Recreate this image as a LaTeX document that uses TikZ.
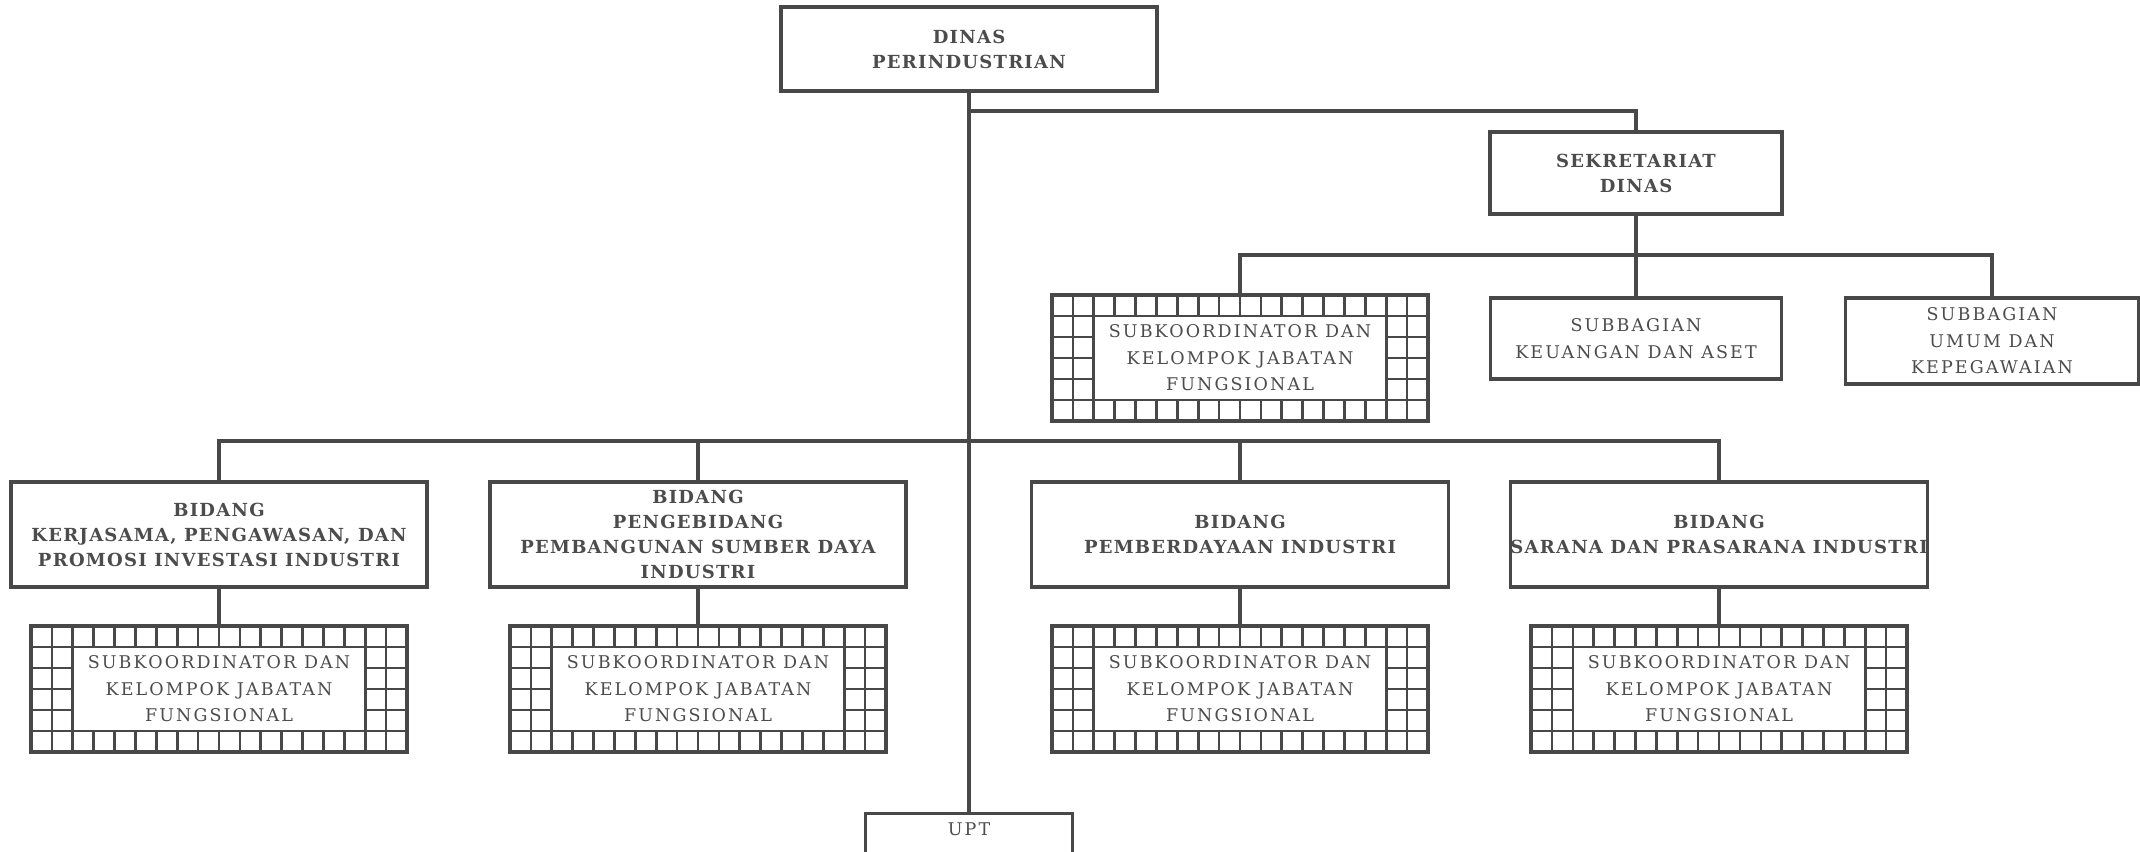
\documentclass[tikz,border=0pt]{standalone}
\usepackage{fontspec}
\setmainfont{DejaVu Serif}
\newfontfamily\bfam[LetterSpace=7]{DejaVu Serif}
\newfontfamily\rfam[LetterSpace=12]{DejaVu Serif}
\usetikzlibrary{calc}
\definecolor{ink}{HTML}{484848}
\definecolor{txt}{HTML}{4C4C4C}
\tikzset{
  conn/.style={draw=ink, line width=3.2pt},
  headbox/.style={draw=ink, line width=3.4pt, fill=white, align=center, inner sep=0pt, text=txt,
    font=\bfam\bfseries\fontsize{18}{25}\selectfont},
  plainbox/.style={draw=ink, line width=3.4pt, fill=white, align=center, inner sep=0pt, text=txt,
    font=\rfam\fontsize{17.5}{26.5}\selectfont},
  subtext/.style={align=center, inner sep=0pt, text=txt, font=\rfam\fontsize{17.5}{26.5}\selectfont,
    minimum width=376pt, minimum height=126pt},
  gridline/.style={draw=ink, line width=2.6pt},
  gridpic/.pic={
    \def\cw{20.889}
    \foreach \i in {1,...,17}{
      \draw[gridline] ({-188+\i*\cw},-63) -- ({-188+\i*\cw},-42);
      \draw[gridline] ({-188+\i*\cw},42) -- ({-188+\i*\cw},63);
    }
    \foreach \xx in {-167.11,-146.22,146.22,167.11}{\draw[gridline] (\xx,-42) -- (\xx,42);}
    \foreach \yy in {-21,0,21}{
      \draw[gridline] (-188,\yy) -- (-146.22,\yy);
      \draw[gridline] (146.22,\yy) -- (188,\yy);
    }
    \draw[gridline] (-188,-42) -- (188,-42);
    \draw[gridline] (-188,42) -- (188,42);
    \draw[draw=ink, line width=3.4pt] (-188,-63) rectangle (188,63);
  }
}
\begin{document}
\begin{tikzpicture}[x=1pt,y=-1pt]
\useasboundingbox[fill=white] (0,0) rectangle (2140,851);

% top
\node[headbox, minimum width=376pt, minimum height=84pt] (dinas) at (969,49) {DINAS\\PERINDUSTRIAN};
\node[headbox, minimum width=292pt, minimum height=82pt] (sek) at (1636,173) {SEKRETARIAT\\DINAS};

% secretariat children
\pic at (1240,358) {gridpic};
\node[subtext] (sg) at (1240,358) {SUBKOORDINATOR DAN\\KELOMPOK JABATAN\\FUNGSIONAL};
\node[plainbox, minimum width=291pt, minimum height=81pt] (keu) at (1636,338.5) {SUBBAGIAN\\KEUANGAN DAN ASET};
\node[plainbox, minimum width=293pt, minimum height=86pt] (umum) at (1992,341) {SUBBAGIAN\\UMUM DAN\\KEPEGAWAIAN};

% bidang
\node[headbox, minimum width=416pt, minimum height=105pt] (b1) at (219,534.5) {BIDANG\\KERJASAMA, PENGAWASAN, DAN\\PROMOSI INVESTASI INDUSTRI};
\node[headbox, minimum width=416pt, minimum height=105pt] (b2) at (698,534.5) {BIDANG\\PENGEBIDANG\\PEMBANGUNAN SUMBER DAYA\\INDUSTRI};
\node[headbox, minimum width=417pt, minimum height=105pt] (b3) at (1240,534.5) {BIDANG\\PEMBERDAYAAN INDUSTRI};
\node[headbox, minimum width=416pt, minimum height=105pt] (b4) at (1719,534.5) {BIDANG\\SARANA DAN PRASARANA INDUSTRI};

% grids under bidang
\pic at (219,689) {gridpic};
\node[subtext] (g1) at (219,689) {SUBKOORDINATOR DAN\\KELOMPOK JABATAN\\FUNGSIONAL};
\pic at (698,689) {gridpic};
\node[subtext] (g2) at (698,689) {SUBKOORDINATOR DAN\\KELOMPOK JABATAN\\FUNGSIONAL};
\pic at (1240,689) {gridpic};
\node[subtext] (g3) at (1240,689) {SUBKOORDINATOR DAN\\KELOMPOK JABATAN\\FUNGSIONAL};
\pic at (1719,689) {gridpic};
\node[subtext] (g4) at (1719,689) {SUBKOORDINATOR DAN\\KELOMPOK JABATAN\\FUNGSIONAL};

% UPT
\node[plainbox, anchor=north, minimum width=207pt, minimum height=60pt, text depth=30pt] (upt) at (969,812) {UPT};

% connectors
\coordinate (j1) at (969,111);
\coordinate (j2) at (1636,255);
\coordinate (j3) at (969,441);
\draw[conn] (dinas.south) -- (upt.north);
\draw[conn] (j1) -| (sek.north);
\draw[conn] (sek.south) -- (keu.north);
\draw[conn] (sg.north) |- (j2) -| (umum.north);
\draw[conn] (b1.north) |- (j3) -| (b4.north);
\draw[conn] (b2.north) -- (b2.north |- j3);
\draw[conn] (b3.north) -- (b3.north |- j3);
\draw[conn] (b1.south) -- (g1.north);
\draw[conn] (b2.south) -- (g2.north);
\draw[conn] (b3.south) -- (g3.north);
\draw[conn] (b4.south) -- (g4.north);
\end{tikzpicture}
\end{document}
